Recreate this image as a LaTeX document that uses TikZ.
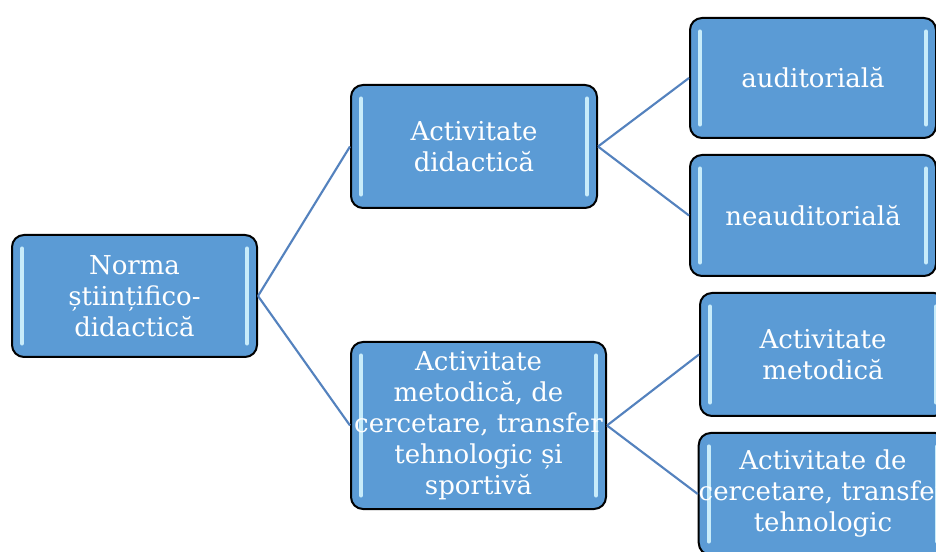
\documentclass[tikz,border=0pt]{standalone}
\usepackage{fontspec}
\setmainfont{DejaVu Serif}
\usepackage{xcolor}

\definecolor{boxblue}{RGB}{91,155,213}
\definecolor{linkblue}{RGB}{84,130,190}
\definecolor{glowblue}{RGB}{200,236,250}

\tikzset{
  glowbar/.style={glowblue, line width=2.8pt, line cap=round},
  normbox/.style={draw=black, line width=1.5pt, fill=boxblue, rounded corners=9pt,
    text=white, align=center, inner sep=0pt,
    font=\fontsize{19.5}{23.25}\selectfont,
    path picture={
      \draw[glowbar] ([xshift=7.5pt,yshift=-10pt]path picture bounding box.north west)
        -- ([xshift=7.5pt,yshift=10pt]path picture bounding box.south west);
      \draw[glowbar] ([xshift=-7.5pt,yshift=-10pt]path picture bounding box.north east)
        -- ([xshift=-7.5pt,yshift=10pt]path picture bounding box.south east);
    }},
  link/.style={linkblue, line width=1.6pt}
}

\begin{document}
\begin{tikzpicture}[x=0.75pt,y=-0.75pt]
                \clip (0,0) rectangle (936,552);
                \useasboundingbox (0,0) rectangle (936,552);

                %% root
                \node[normbox, minimum width=183.75pt, minimum height=91.5pt] (norma) at (134.5,296)
                    {Norma\\științifico-\\didactică};

                %% level 1
                \node[normbox, minimum width=184.5pt, minimum height=92.25pt] (didactica) at (474,146.5)
                    {Activitate\\didactică};
                \node[normbox, minimum width=191.25pt, minimum height=125.25pt] (metodica) at (478.5,425.5)
                    {Activitate\\metodică, de\\cercetare, transfer\\tehnologic și\\sportivă};

                %% level 2
                \node[normbox, minimum width=184.5pt, minimum height=90pt] (aud) at (813,78)
                    {auditorială};
                \node[normbox, minimum width=184.5pt, minimum height=90.75pt] (neaud) at (813,215.5)
                    {neauditorială};
                \node[normbox, minimum width=184.5pt, minimum height=92.25pt] (metod) at (823,354.5)
                    {Activitate\\metodică};
                \node[normbox, minimum width=184.5pt, minimum height=91.5pt] (cercet) at (823,494)
                    {Activitate de\\cercetare, transfer\\tehnologic};

                %% links
                \draw[link] (norma.east) -- (didactica.west);
                \draw[link] (norma.east) -- (metodica.west);
                \draw[link] (didactica.east) -- (aud.west);
                \draw[link] (didactica.east) -- (neaud.west);
                \draw[link] (metodica.east) -- (metod.west);
                \draw[link] (metodica.east) -- (cercet.west);

            \end{tikzpicture}
\end{document}
